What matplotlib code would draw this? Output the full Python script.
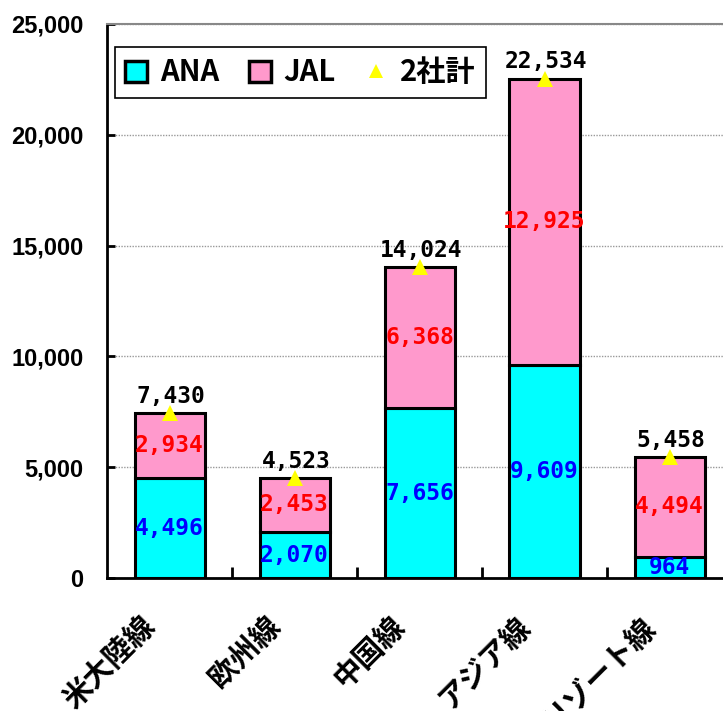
import numpy as np
import matplotlib.pyplot as plt
from matplotlib.patches import Patch
from matplotlib.lines import Line2D
import matplotlib.transforms as mtransforms

# データ
routes = ['米大陸線', '欧州線', '中国線', 'アジア線', 'リゾート線']
ana = np.array([4496, 2070, 7656, 9609, 964])
jal = np.array([2934, 2453, 6368, 12925, 4494])
total = np.array([7430, 4523, 14024, 22534, 5458])

cyan = '#00FFFF'
pink = '#FF99CC'
jp_font = ['Noto Sans CJK JP', 'DejaVu Sans']
num_font = 'DejaVu Sans Mono'

fig = plt.figure(figsize=(7.23, 7.11), dpi=100)
ax = fig.add_axes([107 / 723, 133 / 711, 625 / 723, 554 / 711])

x = np.arange(len(routes))
w = 0.56
ax.bar(x, ana, w, color=cyan, edgecolor='black', linewidth=2.2, zorder=3)
ax.bar(x, jal, w, bottom=ana, color=pink, edgecolor='black', linewidth=2.2, zorder=3)
ax.plot(x, total, linestyle='none', marker='^', color='#FFFF00',
        markersize=11, markeredgewidth=0, zorder=5)

# 数値ラベル
for i in range(len(routes)):
    ax.text(x[i], ana[i] / 2, f'{ana[i]:,}', color='#0000FF', ha='center', va='center',
            fontsize=16.5, fontweight='bold', family=num_font, zorder=6)
    ax.text(x[i], ana[i] + jal[i] / 2, f'{jal[i]:,}', color='#FF0000', ha='center', va='center',
            fontsize=16.5, fontweight='bold', family=num_font, zorder=6)
    ax.annotate(f'{total[i]:,}', (x[i], total[i]), xytext=(1, 12), textcoords='offset points',
                color='black', ha='center', va='center',
                fontsize=16.5, fontweight='bold', family=num_font, zorder=6)

ax.set_xlim(-0.5, len(routes) - 0.5)
ax.set_ylim(0, 25000)
ax.set_yticks(np.arange(0, 25001, 5000))
ax.set_yticklabels([f'{v:,}' for v in range(0, 25001, 5000)],
                   fontsize=17, fontweight='bold', family='Liberation Sans')
ax.tick_params(axis='y', direction='in', length=6, width=2, pad=17)
ax.set_xticks(np.arange(0.5, len(routes) - 0.5, 1.0))
ax.set_xticklabels([])
ax.tick_params(axis='x', direction='in', length=8, width=2)

ax.yaxis.grid(True, linestyle=(0, (1, 1)), color='#999999', linewidth=1, zorder=0)
ax.set_axisbelow(True)
ax.spines['left'].set_linewidth(2)
ax.spines['bottom'].set_linewidth(2)
ax.spines['top'].set_color('#888888')
ax.spines['top'].set_linewidth(1.5)
ax.spines['right'].set_visible(False)

# カテゴリラベル(斜め)
trans = mtransforms.blended_transform_factory(ax.transData, ax.transAxes)
for i, name in enumerate(routes):
    ax.text(x[i] - 0.24, -0.058, name, transform=trans, rotation=45,
            rotation_mode='anchor', ha='right', va='top', fontsize=21,
            fontweight='bold', family=jp_font)

handles = [
    Patch(facecolor=cyan, edgecolor='black', linewidth=2.5),
    Patch(facecolor=pink, edgecolor='black', linewidth=2.5),
    Line2D([], [], linestyle='none', marker='^', color='#FFFF00', markersize=10, markeredgewidth=0),
]
leg = ax.legend(handles, ['ANA', 'JAL', '2社計'], loc='upper left', bbox_to_anchor=(0.013, 0.958),
                ncol=3, fancybox=False, edgecolor='black', framealpha=1, borderaxespad=0,
                handlelength=0.75, handleheight=0.75, handletextpad=0.45, columnspacing=1.0,
                borderpad=0.35, prop={'family': jp_font, 'size': 21, 'weight': 'bold'})
leg.get_frame().set_linewidth(1.2)

fig.savefig('out.png', dpi=100)
